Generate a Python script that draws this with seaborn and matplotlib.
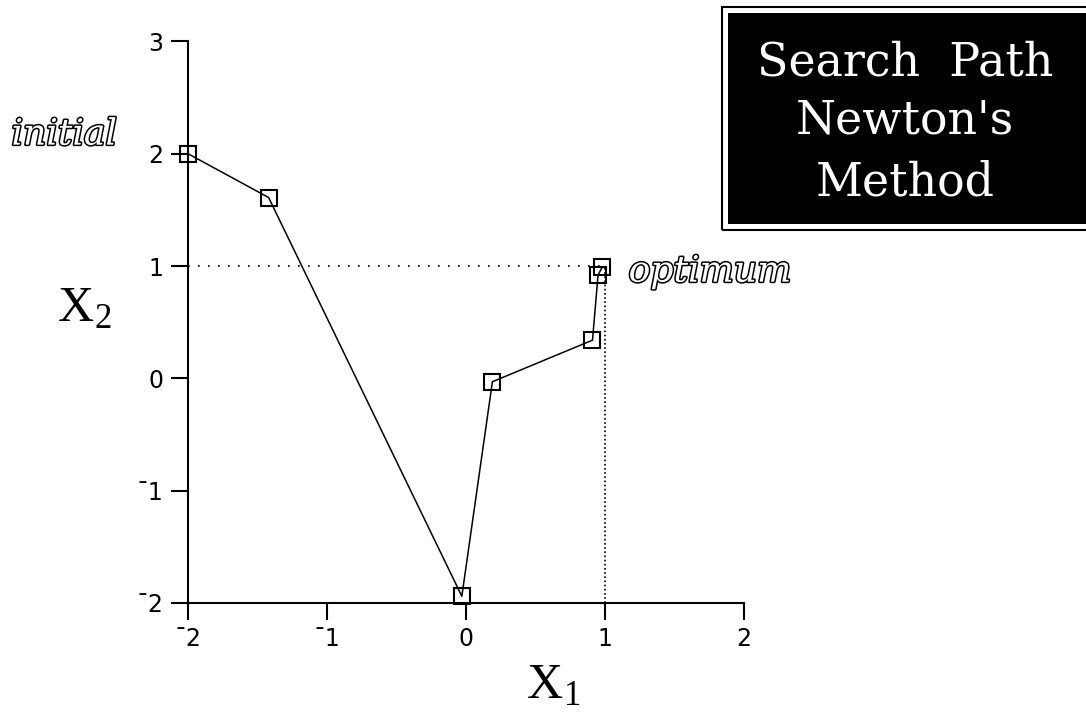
import matplotlib
matplotlib.use("Agg")
import matplotlib.pyplot as plt
import matplotlib.patheffects as pe
from matplotlib.patches import Rectangle
import seaborn as sns
import pandas as pd

# Iterates of Newton's method, from the starting point to the optimum
x1_path = [-2.0, -1.42, -0.03, 0.19, 0.91, 0.95, 0.98]
x2_path = [2.0, 1.61, -1.94, -0.03, 0.34, 0.92, 0.99]
optimum = (1.0, 1.0)

x_ticks = [-2, -1, 0, 1, 2]
x_tick_labels = ["\u00af2", "\u00af1", "0", "1", "2"]
y_ticks = [-2, -1, 0, 1, 2, 3]
y_tick_labels = ["\u00af2", "\u00af1", "0", "1", "2", "3"]
title_lines = ["Search  Path", "Newton's", "Method"]

sns.set_style("ticks")
plt.rcParams["font.family"] = ["DejaVu Sans"]
plt.rcParams["text.color"] = "black"

W, H = 1086, 715
fig = plt.figure(figsize=(W / 100, H / 100), dpi=100)
ax = fig.add_axes([188 / W, 1 - 603 / H, (744 - 188) / W, (603 - 41.4) / H])

path = pd.DataFrame({"x1": x1_path, "x2": x2_path, "step": range(len(x1_path))})

# dotted guides to the optimum
ax.plot([-2, optimum[0]], [optimum[1], optimum[1]], color="black", lw=1.2,
        linestyle=(0, (1, 5)), zorder=1)
ax.plot([optimum[0], optimum[0]], [-2, optimum[1]], color="black", lw=1.2,
        linestyle=(0, (1, 1.5)), zorder=1)

sns.lineplot(data=path, x="x1", y="x2", sort=False, estimator=None, ax=ax,
             color="black", lw=1.1, marker="s", markersize=11,
             markerfacecolor="none", markeredgecolor="black", markeredgewidth=1.5,
             zorder=3, clip_on=False)

ax.set_xlim(-2, 2)
ax.set_ylim(-2, 3)
ax.set_xticks(x_ticks)
ax.set_xticklabels(x_tick_labels)
ax.set_yticks(y_ticks)
ax.set_yticklabels(y_tick_labels)
ax.tick_params(axis="both", direction="out", length=12, width=1.5,
               labelsize=17, color="black", labelcolor="black")
ax.tick_params(axis="x", pad=5)
ax.tick_params(axis="y", pad=6)
for side in ("top", "right"):
    ax.spines[side].set_visible(False)
for side in ("left", "bottom"):
    ax.spines[side].set_linewidth(1.5)
    ax.spines[side].set_color("black")

ax.set_xlabel("")
ax.set_ylabel("")

# axis names, with the index set as a lowered small digit
def axis_name(px, base, idx):
    fig.text(px / W, 1 - base / H, "X", fontsize=36, family="Liberation Serif",
             color="black", ha="left", va="baseline")
    fig.text((px + 37) / W, 1 - (base + 7) / H, idx, fontsize=25,
             family="Liberation Serif", color="black", ha="left", va="baseline")

axis_name(527, 698, "1")
axis_name(58, 321, "2")

# outlined italic annotations
outline = [pe.withStroke(linewidth=2.2, foreground="black")]
ax.text(-3.27, 2.17, "initial", fontsize=26, style="italic",
        family="DejaVu Serif", color="white", ha="left", va="center",
        path_effects=outline, clip_on=False)
ax.text(1.17, 0.95, "optimum", fontsize=26, style="italic",
        family="DejaVu Serif", color="white", ha="left", va="center",
        path_effects=outline, clip_on=False)

# title panel
fig.add_artist(Rectangle((722 / W, 1 - 230 / H), 0.5, (230 - 7) / H,
                         transform=fig.transFigure, fill=False,
                         edgecolor="black", lw=1.5))
fig.add_artist(Rectangle((728 / W, 1 - 224 / H), 0.5, (224 - 13) / H,
                         transform=fig.transFigure, facecolor="black",
                         edgecolor="none"))
for line, base in zip(title_lines, [75, 134, 195]):
    fig.text(905 / W, 1 - base / H, line, fontsize=33, family="DejaVu Serif",
             color="white", ha="center", va="baseline")

fig.savefig("out.png", dpi=100, facecolor="white")
